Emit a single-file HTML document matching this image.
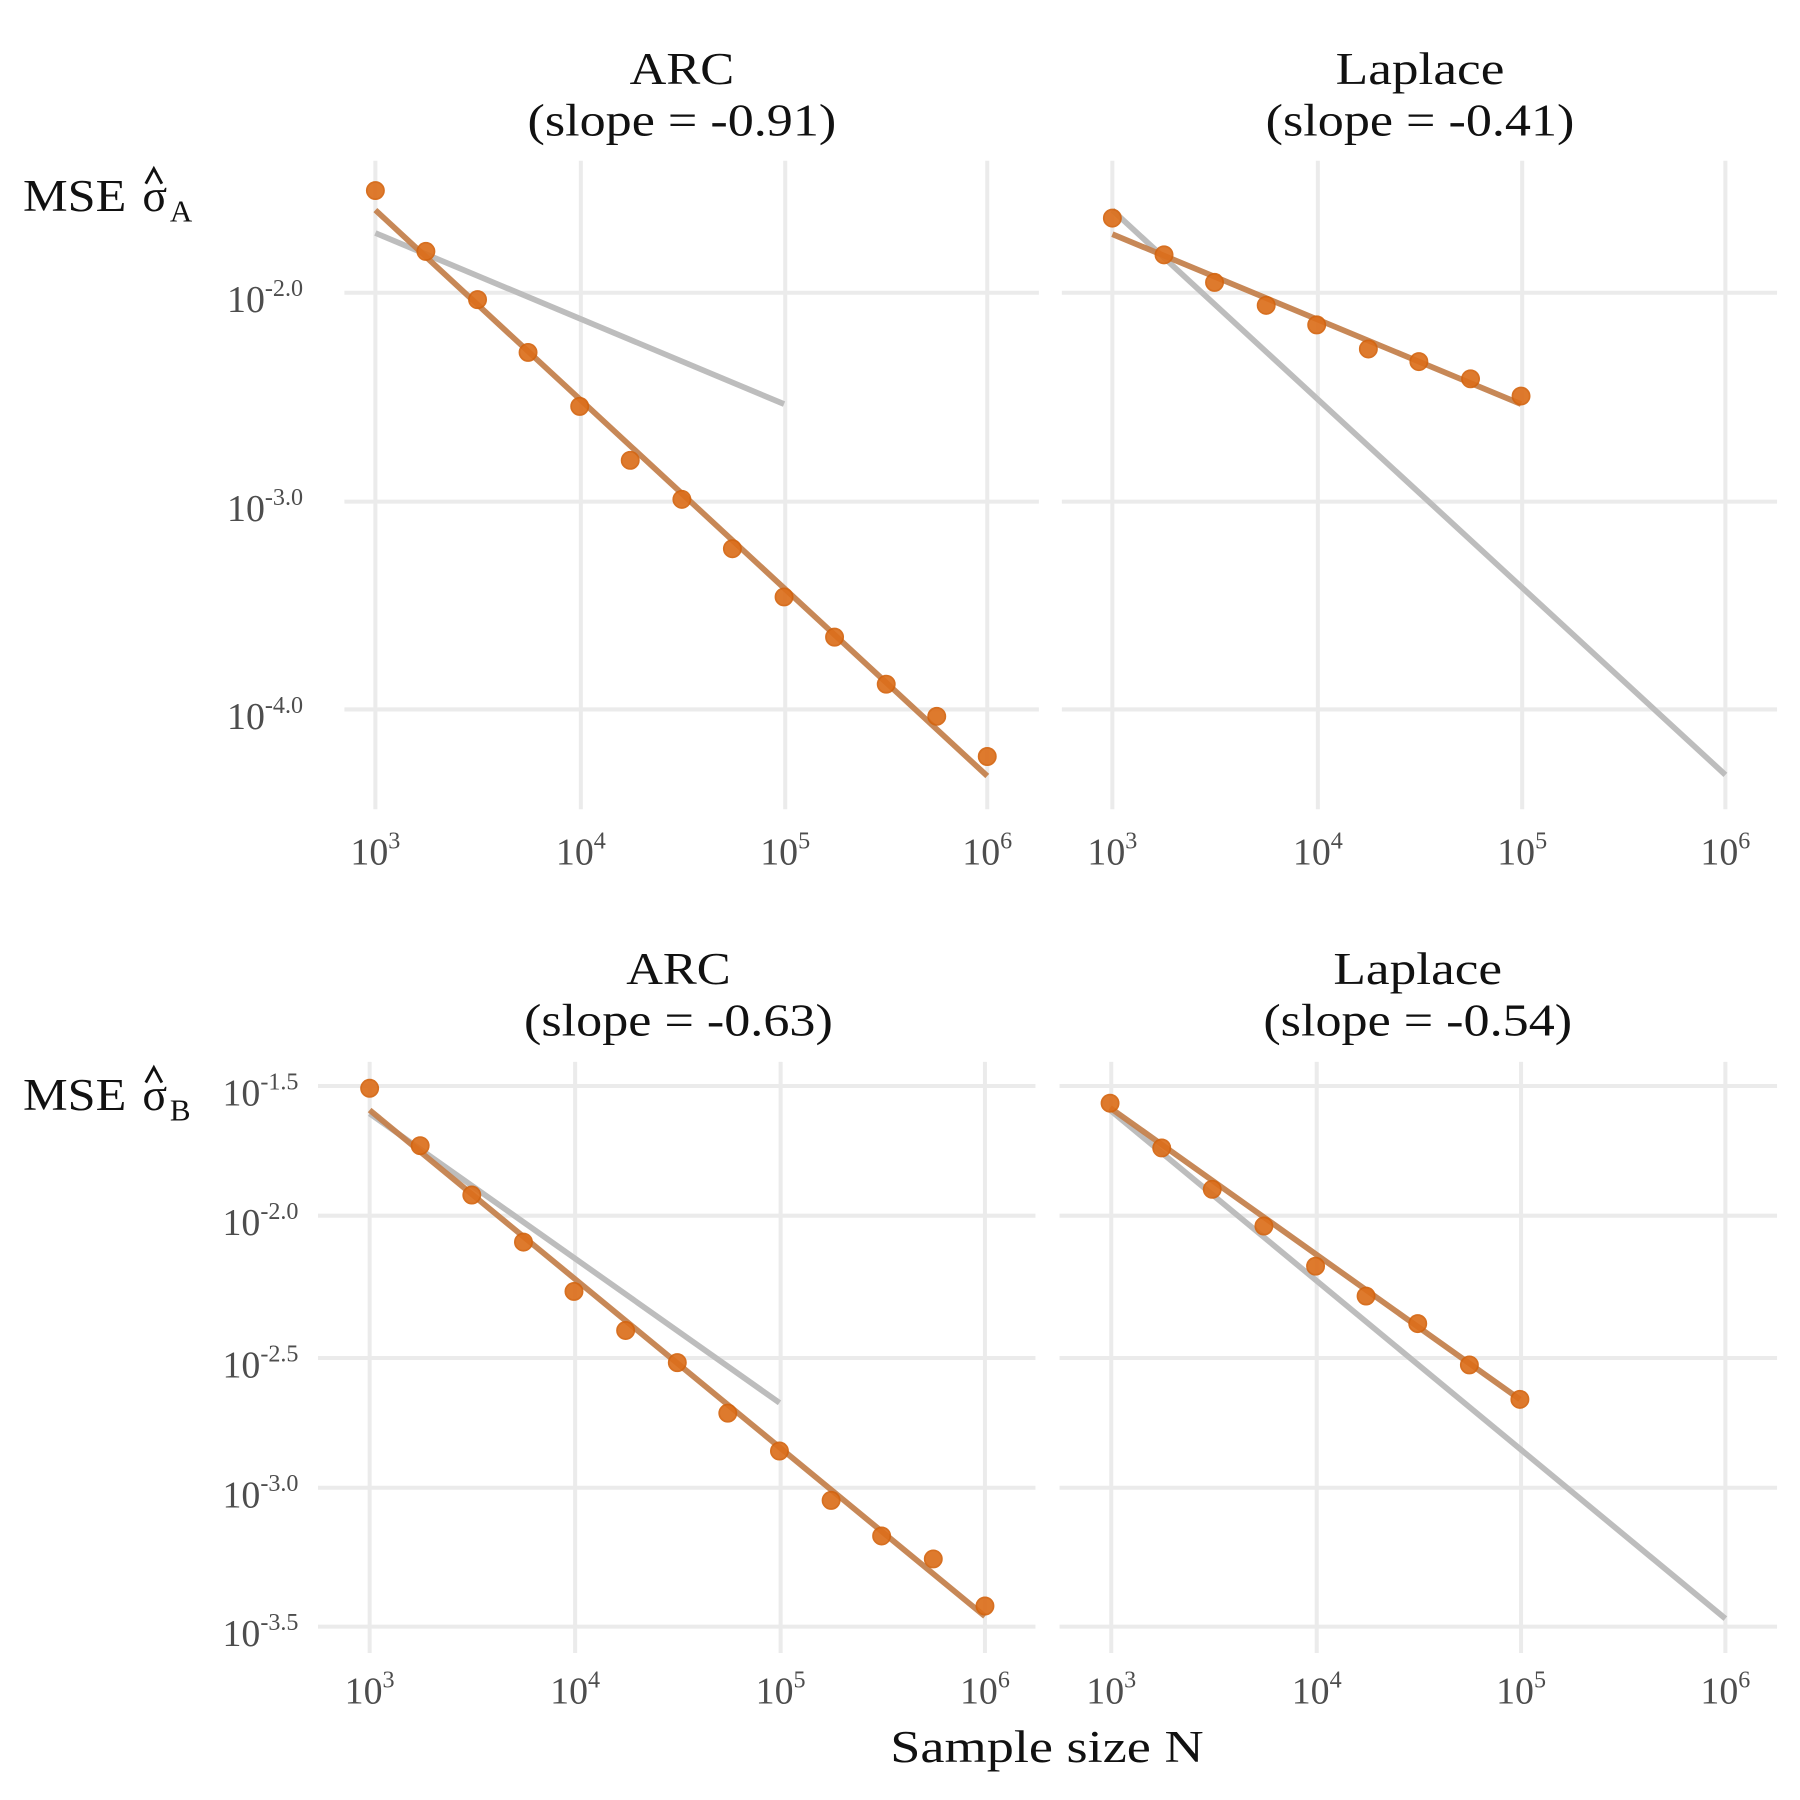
<!DOCTYPE html>
<html><head><meta charset="utf-8"><style>html,body{margin:0;padding:0;background:#fff}svg{display:block}</style></head>
<body>
<svg width="1800" height="1800" viewBox="0 0 1568 1568" xmlns="http://www.w3.org/2000/svg" font-family="'Liberation Serif', serif">
<g stroke="#ebebeb" stroke-width="3.5">
<line x1="327" y1="140" x2="327" y2="705"/><line x1="506" y1="140" x2="506" y2="705"/><line x1="684" y1="140" x2="684" y2="705"/><line x1="860" y1="140" x2="860" y2="705"/>
<line x1="300" y1="255" x2="905" y2="255"/><line x1="300" y1="437" x2="905" y2="437"/><line x1="300" y1="618" x2="905" y2="618"/>
<line x1="969" y1="140" x2="969" y2="705"/><line x1="1148" y1="140" x2="1148" y2="705"/><line x1="1326" y1="140" x2="1326" y2="705"/><line x1="1503" y1="140" x2="1503" y2="705"/>
<line x1="925" y1="255" x2="1548" y2="255"/><line x1="925" y1="437" x2="1548" y2="437"/><line x1="925" y1="618" x2="1548" y2="618"/>
<line x1="322" y1="925" x2="322" y2="1440"/><line x1="501" y1="925" x2="501" y2="1440"/><line x1="680" y1="925" x2="680" y2="1440"/><line x1="858" y1="925" x2="858" y2="1440"/>
<line x1="277" y1="946" x2="902" y2="946"/><line x1="277" y1="1059" x2="902" y2="1059"/><line x1="277" y1="1183" x2="902" y2="1183"/><line x1="277" y1="1296" x2="902" y2="1296"/><line x1="277" y1="1417" x2="902" y2="1417"/>
<line x1="968" y1="925" x2="968" y2="1440"/><line x1="1147" y1="925" x2="1147" y2="1440"/><line x1="1325" y1="925" x2="1325" y2="1440"/><line x1="1503" y1="925" x2="1503" y2="1440"/>
<line x1="923" y1="946" x2="1548" y2="946"/><line x1="923" y1="1059" x2="1548" y2="1059"/><line x1="923" y1="1183" x2="1548" y2="1183"/><line x1="923" y1="1296" x2="1548" y2="1296"/><line x1="923" y1="1417" x2="1548" y2="1417"/>
</g>
<g stroke="#bdbdbd" stroke-width="5">
<line x1="327" y1="203" x2="683" y2="352"/>
<line x1="969" y1="183" x2="1503" y2="675"/>
<line x1="322" y1="970" x2="679" y2="1222"/>
<line x1="967" y1="967" x2="1503" y2="1410"/>
</g>
<g stroke="#c5824f" stroke-width="5" opacity="0.95">
<line x1="327" y1="183" x2="860" y2="676"/>
<line x1="969" y1="204" x2="1325" y2="352"/>
<line x1="322" y1="967" x2="858" y2="1408"/>
<line x1="967" y1="965" x2="1324" y2="1219"/>
</g>
<g fill="#dc6f1c" stroke="#d4640f" stroke-width="1.5" opacity="0.92">
<circle cx="327" cy="166" r="7.5"/><circle cx="371" cy="219" r="7.5"/><circle cx="416" cy="261" r="7.5"/><circle cx="460" cy="307" r="7.5"/><circle cx="505" cy="354" r="7.5"/><circle cx="549" cy="401" r="7.5"/><circle cx="594" cy="435" r="7.5"/><circle cx="638" cy="478" r="7.5"/><circle cx="683" cy="520" r="7.5"/><circle cx="727" cy="555" r="7.5"/><circle cx="772" cy="596" r="7.5"/><circle cx="816" cy="624" r="7.5"/><circle cx="860" cy="659" r="7.5"/>
<circle cx="969" cy="190" r="7.5"/><circle cx="1014" cy="222" r="7.5"/><circle cx="1058" cy="246" r="7.5"/><circle cx="1103" cy="266" r="7.5"/><circle cx="1147" cy="283" r="7.5"/><circle cx="1192" cy="304" r="7.5"/><circle cx="1236" cy="315" r="7.5"/><circle cx="1281" cy="330" r="7.5"/><circle cx="1325" cy="345" r="7.5"/>
<circle cx="322" cy="948" r="7.5"/><circle cx="366" cy="998" r="7.5"/><circle cx="411" cy="1041" r="7.5"/><circle cx="456" cy="1082" r="7.5"/><circle cx="500" cy="1125" r="7.5"/><circle cx="545" cy="1159" r="7.5"/><circle cx="590" cy="1187" r="7.5"/><circle cx="634" cy="1231" r="7.5"/><circle cx="679" cy="1264" r="7.5"/><circle cx="724" cy="1307" r="7.5"/><circle cx="768" cy="1338" r="7.5"/><circle cx="813" cy="1358" r="7.5"/><circle cx="858" cy="1399" r="7.5"/>
<circle cx="967" cy="961" r="7.5"/><circle cx="1012" cy="1000" r="7.5"/><circle cx="1056" cy="1036" r="7.5"/><circle cx="1101" cy="1068" r="7.5"/><circle cx="1146" cy="1103" r="7.5"/><circle cx="1190" cy="1129" r="7.5"/><circle cx="1235" cy="1153" r="7.5"/><circle cx="1280" cy="1189" r="7.5"/><circle cx="1324" cy="1219" r="7.5"/>
</g>
<g fill="#111" font-size="40" text-anchor="middle" lengthAdjust="spacingAndGlyphs">
<text x="594" y="73" textLength="91" lengthAdjust="spacingAndGlyphs">ARC</text><text x="594" y="118" textLength="269" lengthAdjust="spacingAndGlyphs">(slope = -0.91)</text>
<text x="1237" y="73" textLength="147" lengthAdjust="spacingAndGlyphs">Laplace</text><text x="1237" y="118" textLength="269" lengthAdjust="spacingAndGlyphs">(slope = -0.41)</text>
<text x="591" y="857" textLength="91" lengthAdjust="spacingAndGlyphs">ARC</text><text x="591" y="902" textLength="269" lengthAdjust="spacingAndGlyphs">(slope = -0.63)</text>
<text x="1235" y="857" textLength="147" lengthAdjust="spacingAndGlyphs">Laplace</text><text x="1235" y="902" textLength="269" lengthAdjust="spacingAndGlyphs">(slope = -0.54)</text>
<text x="912" y="1535" textLength="273" lengthAdjust="spacingAndGlyphs">Sample size N</text>
</g>
<g fill="#111" font-size="40">
<text x="20" y="184" textLength="90" lengthAdjust="spacingAndGlyphs">MSE</text>
<text x="124" y="184">σ</text><text x="148" y="193" font-size="27">A</text>
<path d="M127 160 L134 147 L141 160" stroke="#111" stroke-width="2.5" fill="none"/>
<text x="20" y="967" textLength="90" lengthAdjust="spacingAndGlyphs">MSE</text>
<text x="124" y="967">σ</text><text x="148" y="976" font-size="27">B</text>
<path d="M127 943 L134 930 L141 943" stroke="#111" stroke-width="2.5" fill="none"/>
</g>
<g fill="#4d4d4d" font-size="33" text-anchor="end">
<text x="264" y="272">10<tspan font-size="21" dy="-14">-2.0</tspan></text>
<text x="264" y="454">10<tspan font-size="21" dy="-14">-3.0</tspan></text>
<text x="264" y="635">10<tspan font-size="21" dy="-14">-4.0</tspan></text>
<text x="260" y="963">10<tspan font-size="21" dy="-14">-1.5</tspan></text>
<text x="260" y="1076">10<tspan font-size="21" dy="-14">-2.0</tspan></text>
<text x="260" y="1200">10<tspan font-size="21" dy="-14">-2.5</tspan></text>
<text x="260" y="1313">10<tspan font-size="21" dy="-14">-3.0</tspan></text>
<text x="260" y="1434">10<tspan font-size="21" dy="-14">-3.5</tspan></text>
</g>
<g fill="#4d4d4d" font-size="33" text-anchor="middle">
<text x="327" y="753">10<tspan font-size="21" dy="-14">3</tspan></text>
<text x="506" y="753">10<tspan font-size="21" dy="-14">4</tspan></text>
<text x="684" y="753">10<tspan font-size="21" dy="-14">5</tspan></text>
<text x="860" y="753">10<tspan font-size="21" dy="-14">6</tspan></text>
<text x="969" y="753">10<tspan font-size="21" dy="-14">3</tspan></text>
<text x="1148" y="753">10<tspan font-size="21" dy="-14">4</tspan></text>
<text x="1326" y="753">10<tspan font-size="21" dy="-14">5</tspan></text>
<text x="1503" y="753">10<tspan font-size="21" dy="-14">6</tspan></text>
<text x="322" y="1484">10<tspan font-size="21" dy="-14">3</tspan></text>
<text x="501" y="1484">10<tspan font-size="21" dy="-14">4</tspan></text>
<text x="680" y="1484">10<tspan font-size="21" dy="-14">5</tspan></text>
<text x="858" y="1484">10<tspan font-size="21" dy="-14">6</tspan></text>
<text x="968" y="1484">10<tspan font-size="21" dy="-14">3</tspan></text>
<text x="1147" y="1484">10<tspan font-size="21" dy="-14">4</tspan></text>
<text x="1325" y="1484">10<tspan font-size="21" dy="-14">5</tspan></text>
<text x="1503" y="1484">10<tspan font-size="21" dy="-14">6</tspan></text>
</g>
</svg>
</body></html>
